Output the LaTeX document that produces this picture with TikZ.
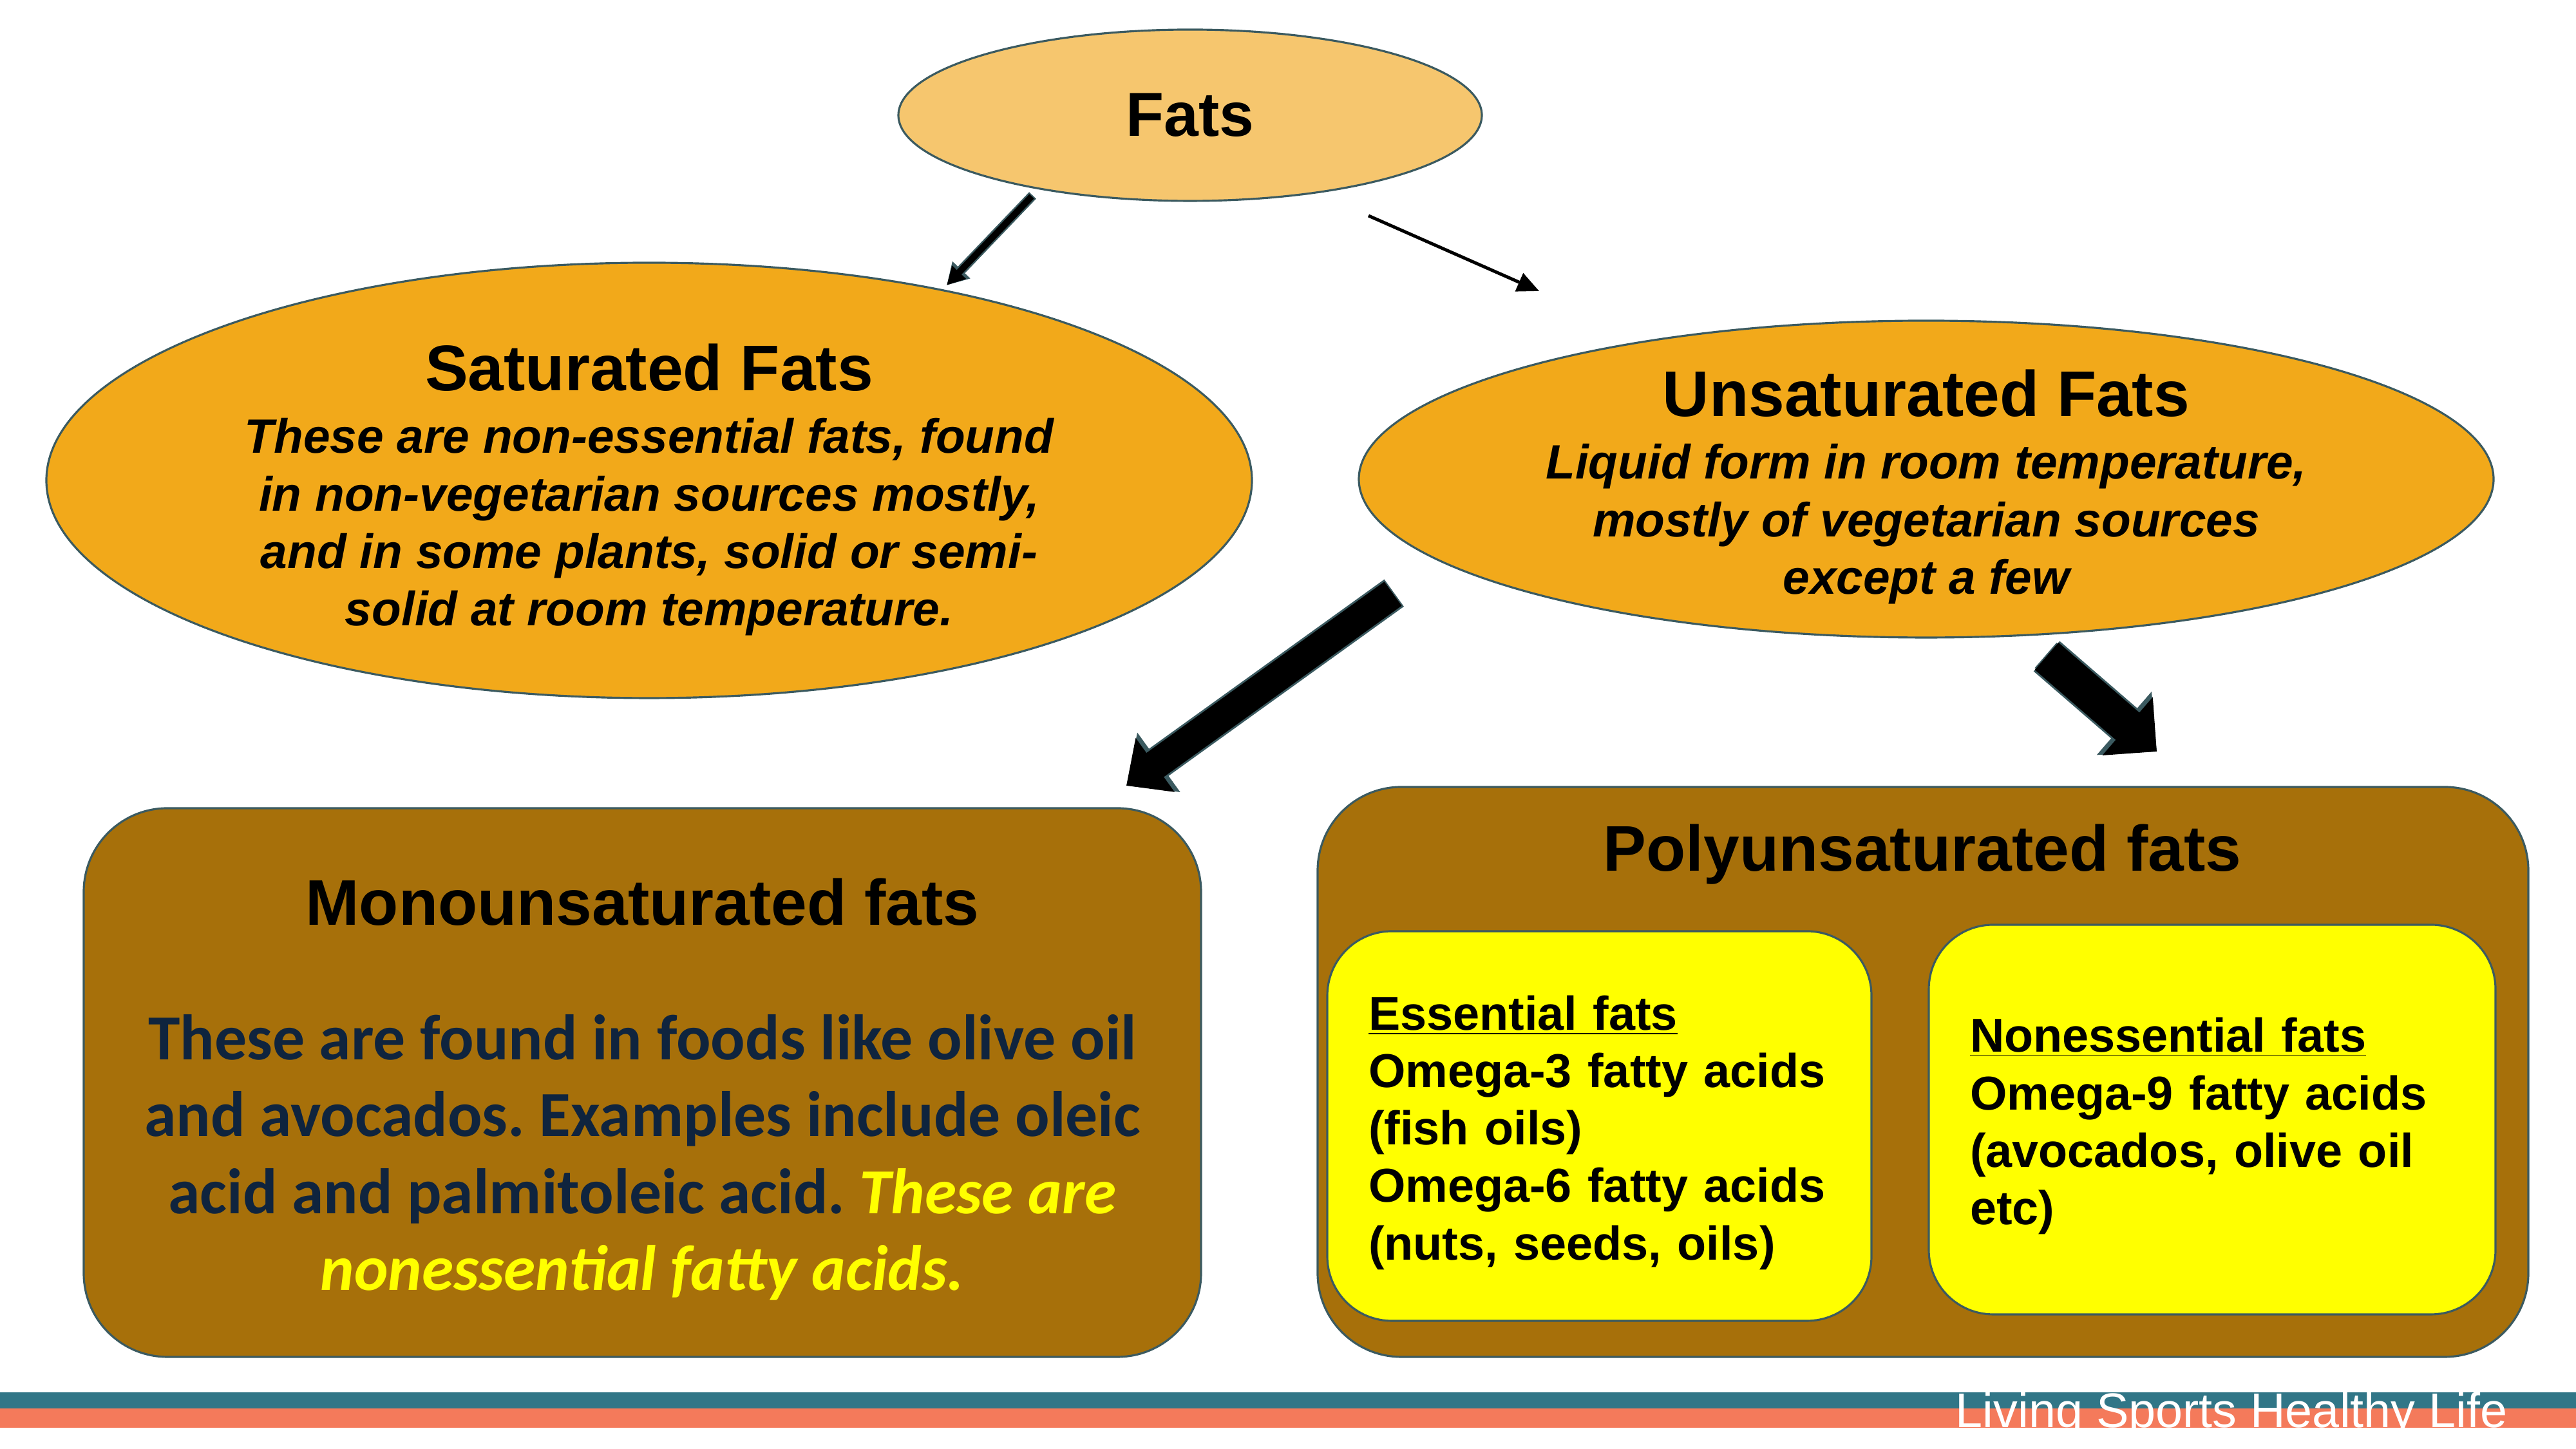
\documentclass[tikz,border=0pt]{standalone}
\usepackage{fontspec}
\setmainfont{Liberation Sans}
\newfontfamily\calibrifont{Carlito}
\usepackage{xcolor}
\usetikzlibrary{arrows.meta, shapes.geometric, positioning}
\frenchspacing

\definecolor{edgegray}{HTML}{3B5A60}
\definecolor{fatlight}{HTML}{F6C66E}
\definecolor{fatorange}{HTML}{F2A91A}
\definecolor{fatbrown}{HTML}{A7700A}
\definecolor{navytext}{HTML}{0F243E}
\definecolor{barteal}{HTML}{317687}
\definecolor{barsalmon}{HTML}{F47A5B}
\definecolor{boxyellow}{HTML}{FFFF00}

\newcommand\headfont{\rmfamily\fontsize{28.5}{34}\selectfont\bfseries}
\newcommand\bodyit{\fontsize{21.3}{25.4}\selectfont\bfseries\itshape}

\begin{document}
\begin{tikzpicture}[
    oval/.style={ellipse, draw=edgegray, line width=0.9pt, fill=fatorange, align=center, inner sep=-1.5cm},
    panel/.style={rectangle, rounded corners=1.3cm, draw=edgegray, line width=0.9pt, fill=fatbrown},
    subpanel/.style={rectangle, rounded corners=1cm, draw=edgegray, line width=0.9pt, fill=boxyellow,
                     align=left, inner xsep=0.64cm, minimum height=6.05cm,
                     font=\fontsize{21}{25.4}\selectfont\bfseries},
    bigarr/.style={line width=0.46cm, -{Triangle[width=1cm,length=0.55cm]},
                   preaction={draw=edgegray, line width=0.52cm, shorten <=-0.6pt,
                              -{Triangle[width=1.1cm,length=0.62cm]}}},
    smallarr/.style={line width=0.1cm, -{Triangle[width=0.28cm,length=0.28cm]},
                     preaction={draw=edgegray, line width=0.15cm, shorten <=-0.6pt,
                                -{Triangle[width=0.36cm,length=0.33cm]}}},
    thinarr/.style={line width=0.05cm, -{Triangle[width=0.3cm,length=0.34cm]}}
]
\useasboundingbox (0,0) rectangle (40,22.5);

% ovals
\node[oval, fill=fatlight, minimum width=9.06cm, minimum height=2.66cm] (fats) at (18.48,20.71)
    {\fontsize{27.5}{32}\selectfont\bfseries Fats};
\node[oval, minimum width=18.72cm, minimum height=6.76cm, font=\bodyit] (sat) at (10.08,15.04)
    {{\headfont\upshape\rule{0pt}{29pt}Saturated Fats}\\[2.2pt]
     These are non-essential fats, found\\
     in non-vegetarian sources mostly,\\
     and in some plants, solid or semi-\\
     solid at room temperature.};
\node[oval, minimum width=17.62cm, minimum height=4.92cm, font=\bodyit] (unsat) at (29.91,15.06)
    {{\headfont\upshape\rule{0pt}{27.5pt}Unsaturated Fats}\\[2.2pt]
     Liquid form in room temperature,\\
     mostly of vegetarian sources\\
     except a few};

% panels
\node[panel, minimum width=17.35cm, minimum height=8.52cm, align=center, text=navytext,
      font=\calibrifont\fontsize{28.4}{34}\selectfont\bfseries] (mono) at (9.975,5.69)
    {{\headfont\color{black}\rule{0pt}{26.7pt}Monounsaturated fats}\\[25.5pt]
     These are found in foods like olive oil\\
     and avocados. Examples include oleic\\
     acid and palmitoleic acid. {\color{boxyellow}\itshape These are}\\
     {\color{boxyellow}\itshape nonessential fatty acids.}};
\node[panel, minimum width=18.80cm, minimum height=8.85cm] (poly) at (29.86,5.855) {};
\node[font=\headfont] (polytitle) at (29.85,9.23) {Polyunsaturated fats};
\node[subpanel, text width=7.17cm] (essential) at (24.835,5.015)
    {\rule{0pt}{21pt}\underline{Essential fats}\\
     Omega-3 fatty acids\\
     (fish oils)\\
     Omega-6 fatty acids\\
     (nuts, seeds, oils)};
\node[subpanel, text width=7.52cm] (nonessential) at (34.35,5.115)
    {\rule{0pt}{21pt}\underline{Nonessential fats}\\
     Omega-9 fatty acids\\
     (avocados, olive oil\\
     etc)};

% arrows
\coordinate (a1s) at (16.02,19.45);
\coordinate (a1e) at (14.70,18.07);
\coordinate (a2s) at (21.25,19.15);
\coordinate (a2e) at (23.90,17.98);
\coordinate (a3s) at (21.63,13.28);
\coordinate (a3e) at (17.49,10.30);
\coordinate (a4s) at (31.78,12.31);
\coordinate (a4e) at (33.49,10.83);
\draw[smallarr] (a1s) -- (a1e);
\draw[thinarr] (a2s) -- (a2e);
\draw[bigarr] (a3s) -- (a3e);
\draw[bigarr, line width=0.56cm, -{Triangle[width=1.16cm,length=0.6cm]},
      preaction={draw=edgegray, line width=0.62cm, -{Triangle[width=1.26cm,length=0.67cm]}}] (a4s) -- (a4e);

% footer bars
\fill[barteal] (0,0.63) rectangle (40,0.88);
\fill[barsalmon] (0,0.33) rectangle (40,0.63);
\node[anchor=base west, inner sep=0pt, text=white, font=\fontsize{21.5}{24}\selectfont] (footer)
    at (30.36,0.33) {Living Sports Healthy Life};
\end{tikzpicture}
\end{document}
